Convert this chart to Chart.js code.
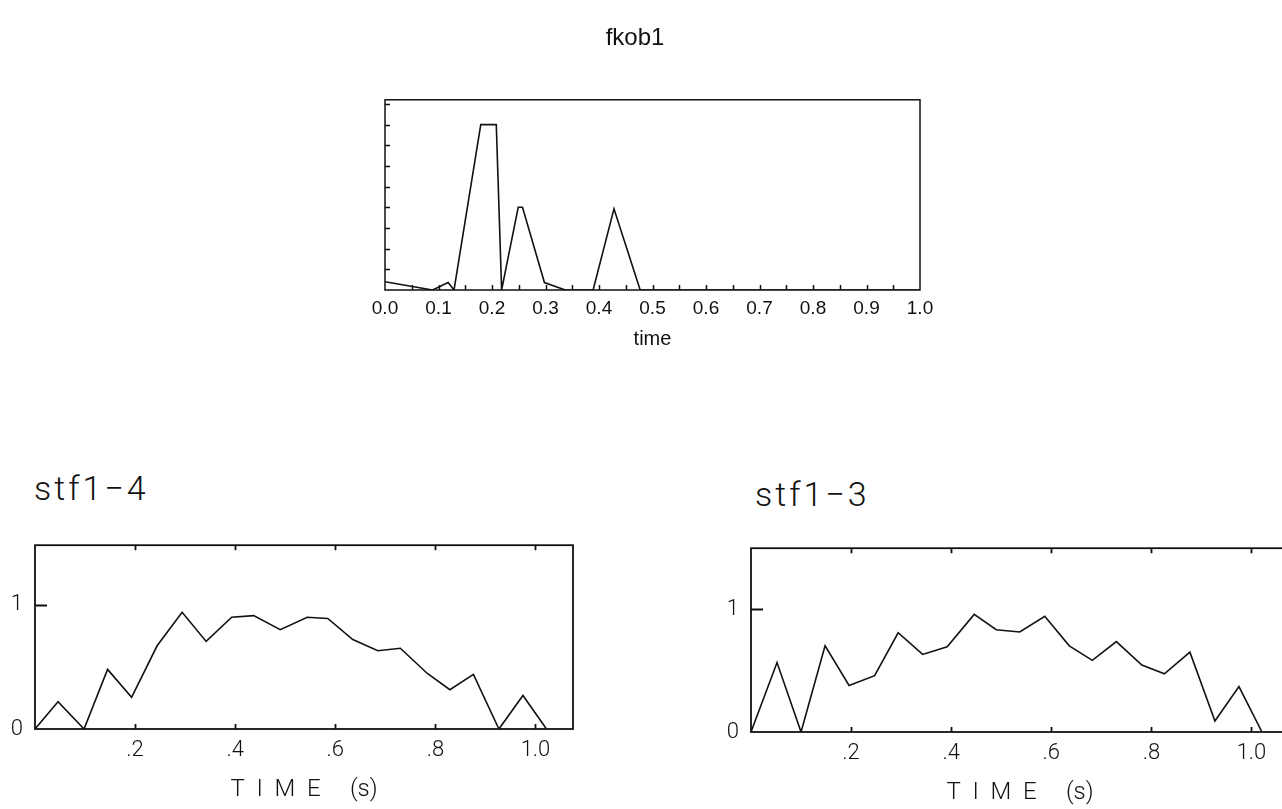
<!DOCTYPE html>
<html>
<head>
<meta charset="utf-8">
<title>fkob1</title>
<script src="https://cdn.jsdelivr.net/npm/chart.js@4.4.1/dist/chart.umd.min.js"></script>
<style>
  html, body { margin: 0; padding: 0; background: #fff; overflow: hidden; width: 1282px; height: 809px; }
  .pane { position: absolute; }
  .stf-title {
    position: absolute;
    font-family: Roboto, 'DejaVu Sans', sans-serif;
    font-weight: 300;
    font-size: 34px;
    letter-spacing: 3px;
    color: #111;
    white-space: nowrap;
  }
</style>
</head>
<body>

<div class="pane" style="left:350px; top:0px;"><canvas id="fkob" width="605" height="360"></canvas></div>

<div class="stf-title" style="left:34px; top:468px;">stf1−4</div>
<div class="pane" style="left:0px; top:520px;"><canvas id="stf4" width="620" height="289"></canvas></div>

<div class="stf-title" style="left:755px; top:474px;">stf1−3</div>
<div class="pane" style="left:716px; top:523px;"><canvas id="stf3" width="620" height="289"></canvas></div>

<script>
// fkob1 pulse train
const fkobTime  = [0, 0.089, 0.118, 0.129, 0.179, 0.208, 0.218, 0.249, 0.257, 0.298, 0.337, 0.389, 0.428, 0.477, 1.0];
const fkobValue = [0.4, 0, 0.36, 0, 8, 8, 0, 4, 4, 0.36, 0, 0, 3.93, 0, 0];
const fkobTicks = [0, 0.1, 0.2, 0.3, 0.4, 0.5, 0.6, 0.7, 0.8, 0.9, 1.0];
const fkobMinor = [0.05, 0.1, 0.15, 0.2, 0.25, 0.3, 0.35, 0.4, 0.45, 0.5, 0.55, 0.6, 0.65, 0.7, 0.75, 0.8, 0.85, 0.9, 0.95];
const fkobLevels = [1, 2, 3, 4, 5, 6, 7, 8, 9];

// source time functions
const stf4Time  = [0, 0.046, 0.098, 0.145, 0.193, 0.244, 0.294, 0.342, 0.393, 0.437, 0.49, 0.544, 0.585, 0.635, 0.685, 0.73, 0.784, 0.829, 0.876, 0.927, 0.975, 1.022];
const stf4Value = [0, 0.22, 0, 0.48, 0.255, 0.67, 0.94, 0.705, 0.9, 0.913, 0.8, 0.9, 0.89, 0.72, 0.63, 0.65, 0.447, 0.316, 0.44, 0, 0.27, 0];

const stf3Time  = [0, 0.052, 0.1, 0.148, 0.196, 0.247, 0.294, 0.343, 0.392, 0.446, 0.49, 0.537, 0.587, 0.636, 0.682, 0.73, 0.781, 0.826, 0.877, 0.927, 0.975, 1.021];
const stf3Value = [0, 0.567, 0, 0.703, 0.38, 0.46, 0.81, 0.633, 0.695, 0.96, 0.835, 0.816, 0.945, 0.703, 0.585, 0.738, 0.546, 0.475, 0.652, 0.09, 0.37, 0];

const stfTickValues = [0.2, 0.4, 0.6, 0.8, 1.0];
const stfTickLabels = ['.2', '.4', '.6', '.8', '1.0'];
const stfYValues = [0, 1];
const stfYLabels = ['0', '1'];

const INK = '#111';
const plotFont = 'Roboto, "DejaVu Sans", sans-serif';
const helv = '"Liberation Sans", Arial, sans-serif';

function toPoints(xs, ys) {
  return xs.map((t, i) => ({ x: t, y: ys[i] }));
}

// box around the plot area plus inward tick marks
const framePlugin = {
  id: 'frame',
  afterDatasetsDraw(chart, args, opts) {
    const { ctx, chartArea: a, scales } = chart;
    const x = scales.x, y = scales.y;
    ctx.save();
    ctx.strokeStyle = INK;
    ctx.lineWidth = opts.lineWidth;
    ctx.strokeRect(a.left, a.top, a.right - a.left, a.bottom - a.top);
    ctx.beginPath();
    (opts.xTicks || []).forEach(v => {
      const px = Math.round(x.getPixelForValue(v)) + 0.5;
      ctx.moveTo(px, a.bottom);
      ctx.lineTo(px, a.bottom - opts.xTickLen);
      if (opts.topTicks) {
        ctx.moveTo(px, a.top);
        ctx.lineTo(px, a.top + opts.xTickLen);
      }
    });
    (opts.yTicks || []).forEach(v => {
      const py = Math.round(y.getPixelForValue(v)) + 0.5;
      ctx.moveTo(a.left, py);
      ctx.lineTo(a.left + opts.yTickLen, py);
    });
    ctx.stroke();
    ctx.restore();
  }
};

const lineDataset = (xs, ys) => ({
  data: toPoints(xs, ys),
  borderColor: INK,
  borderWidth: 1.6,
  pointRadius: 0,
  tension: 0,
  showLine: true,
  fill: false
});

// top panel
new Chart(document.getElementById('fkob'), {
  type: 'scatter',
  data: { datasets: [lineDataset(fkobTime, fkobValue)] },
  plugins: [framePlugin],
  options: {
    responsive: false,
    animation: false,
    layout: { padding: { top: 0, left: 0, right: 35, bottom: 0 } },
    scales: {
      x: {
        type: 'linear', min: 0, max: 1,
        grid: { display: false, drawTicks: false }, border: { display: false },
        afterBuildTicks: s => { s.ticks = fkobTicks.map(v => ({ value: v })); },
        afterFit: s => { s.height = 70; },
        ticks: {
          autoSkip: false, maxRotation: 0, padding: 7, color: INK,
          font: { family: helv, size: 19 },
          callback: v => Number(v).toFixed(1)
        },
        title: {
          display: true, text: 'time', color: INK,
          font: { family: helv, size: 20 },
          padding: { top: 0, bottom: 9 }
        }
      },
      y: {
        type: 'linear', min: 0, max: 9.2,
        grid: { display: false, drawTicks: false }, border: { display: false },
        ticks: { display: false },
        afterFit: s => { s.width = 35; }
      }
    },
    plugins: {
      legend: { display: false },
      tooltip: { enabled: false },
      title: {
        display: true, text: 'fkob1', color: INK,
        font: { family: helv, size: 24, weight: 'normal' },
        padding: { top: 24, bottom: 47 }
      },
      frame: { lineWidth: 1.5, xTicks: fkobMinor, xTickLen: 5, topTicks: false, yTicks: fkobLevels, yTickLen: 5 }
    }
  }
});

// lower panels share one layout
function stfChart(id, xs, ys, yMax) {
  return new Chart(document.getElementById(id), {
    type: 'scatter',
    data: { datasets: [lineDataset(xs, ys)] },
    plugins: [framePlugin],
    options: {
      responsive: false,
      animation: false,
      layout: { padding: { top: 21, left: 0, right: 47, bottom: 0 } },
      scales: {
        x: {
          type: 'linear', min: 0, max: 1.075,
          grid: { display: false, drawTicks: false }, border: { display: false },
          afterBuildTicks: s => { s.ticks = stfTickValues.map(v => ({ value: v })); },
          afterFit: s => { s.height = 80; },
          ticks: {
            autoSkip: false, maxRotation: 0, padding: 8, color: INK,
            font: { family: plotFont, size: 22, weight: '300' },
            callback: v => stfTickLabels[stfTickValues.indexOf(v)]
          },
          title: {
            display: true, text: 'T  I  M  E     (s)', color: INK,
            font: { family: plotFont, size: 24, weight: '300' },
            padding: { top: 0, bottom: 5 }
          }
        },
        y: {
          type: 'linear', min: 0, max: yMax,
          grid: { display: false, drawTicks: false }, border: { display: false },
          afterBuildTicks: s => { s.ticks = stfYValues.map(v => ({ value: v })); },
          afterFit: s => { s.width = 35; },
          ticks: {
            padding: 12, color: INK,
            font: { family: plotFont, size: 22, weight: '300' },
            callback: v => stfYLabels[stfYValues.indexOf(v)]
          }
        }
      },
      plugins: {
        legend: { display: false },
        tooltip: { enabled: false },
        frame: { lineWidth: 1.8, xTicks: stfTickValues, xTickLen: 5, topTicks: true, yTicks: [1], yTickLen: 12 }
      }
    }
  });
}

stfChart('stf4', stf4Time, stf4Value, 1.48);
stfChart('stf3', stf3Time, stf3Value, 1.5);
</script>
</body>
</html>
